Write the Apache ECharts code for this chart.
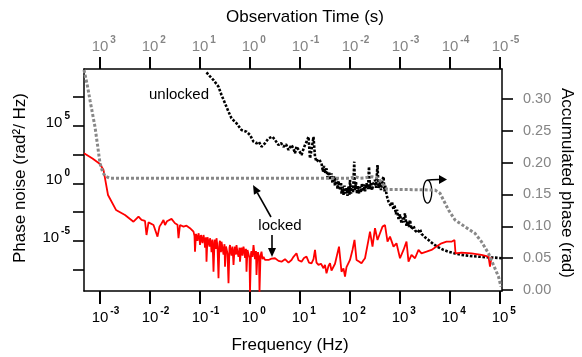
<!DOCTYPE html>
<html><head><meta charset="utf-8">
<script src="https://cdn.jsdelivr.net/npm/echarts@6/dist/echarts.min.js"></script>
<style>html,body{margin:0;padding:0;background:#fff}#c{width:582px;height:357px}</style>
</head><body><div id="c"></div><script>
// Frequency ticks (log10 Hz); observation time = 1/f on top axis
const freqTicks = [-3, -2, -1, 0, 1, 2, 3, 4, 5];
// Phase-noise ticks (log10 rad^2/Hz)
const noiseTicks = [-7.5, -5, -2.5, 0, 2.5, 5, 7.5];
const noiseLabelTicks = [-5, 0, 5];
// Accumulated phase ticks (rad)
const accTicks = [0, 0.05, 0.10, 0.15, 0.20, 0.25, 0.30];

// [log10 f, log10 S]  unlocked (black dots)
const unlocked = [
 [-0.87,9.65],[-0.80,9.3],[-0.73,8.98],[-0.63,8.40],[-0.57,7.68],[-0.50,6.96],[-0.43,6.23],[-0.37,5.65],
 [-0.27,5.22],[-0.17,4.63],[-0.07,4.49],[0.0,4.2],[0.07,3.62],[0.13,3.48],[0.18,3.6],[0.23,3.18],
 [0.30,3.48],[0.37,3.91],[0.45,4.05],[0.50,3.77],[0.57,3.33],[0.62,3.5],[0.67,3.18],[0.72,3.4],
 [0.77,2.90],[0.83,3.33],[0.87,3.0],[0.90,2.61],[0.93,3.2],[0.97,3.04],[1.0,2.7],[1.03,2.46],
 [1.07,3.0],[1.10,3.33],[1.13,3.6],[1.17,4.05],[1.20,2.17],[1.23,2.9],[1.27,4.03],[1.30,2.3],
 [1.33,1.88],[1.38,2.1],[1.43,1.74],[1.46,1.0],[1.48,1.5],[1.50,0.9],[1.53,1.30],[1.55,0.5],
 [1.58,1.0],[1.60,0.3],[1.63,0.87],[1.65,0.0],[1.68,0.6],[1.70,-0.2],[1.73,0.57],[1.75,-0.5],
 [1.77,0.2],[1.80,-0.6],[1.82,0.1],[1.83,-0.9],[1.85,-0.3],[1.87,-1.0],[1.89,-0.2],[1.91,-0.9],
 [1.93,-0.43],[1.95,-1.1],[1.97,-0.3],[1.99,-1.0],[2.0,0.29],[2.02,-0.9],[2.04,-0.2],[2.06,-0.8],
 [2.085,1.88],[2.10,-0.6],[2.12,0.1],[2.14,-0.9],[2.16,-0.2],[2.18,-0.9],[2.20,-0.3],[2.22,-0.8],
 [2.24,0.0],[2.26,-0.7],[2.28,-0.1],[2.30,-0.7],[2.33,0],[2.36,-0.5],[2.38,1.44],[2.40,-0.5],
 [2.42,0.1],[2.44,-0.6],[2.47,0.0],[2.50,0.29],[2.52,-0.4],[2.55,1.59],[2.57,-0.4],[2.60,0.1],
 [2.62,-0.6],[2.65,0.3],[2.67,0.57],[2.69,-0.7],[2.71,-0.2],[2.73,-1.0],[2.75,-0.9],[2.77,-1.6],
 [2.80,-1.45],[2.82,-2.0],[2.84,-1.6],[2.87,-2.3],[2.89,-1.9],[2.92,-2.7],[2.94,-2.3],[2.97,-3.1],
 [3.0,-2.7],[3.03,-3.5],[3.05,-3.0],[3.07,-3.4],[3.10,-2.61],[3.13,-3.7],[3.15,-3.3],[3.18,-3.8],
 [3.20,-3.2],[3.23,-4.0],[3.27,-3.7],[3.30,-4.1],[3.35,-4.3],[3.40,-4.0],[3.43,-4.4],[3.50,-4.7],
 [3.57,-4.93],[3.67,-5.3],[3.77,-5.57],[3.87,-5.8],[3.97,-5.95],[4.1,-6.1],[4.23,-6.23],[4.4,-6.32],
 [4.57,-6.38],[4.73,-6.43],[4.9,-6.47],[5.04,-6.52]
];

// [log10 f, log10 S]  locked (red)
const locked = [
 [-3.32,2.61],[-3.15,2.15],[-3.0,1.68],[-2.93,1.16],[-2.84,-1.02],[-2.68,-2.32],[-2.5,-2.76],[-2.33,-3.34],
 [-2.23,-2.90],[-2.17,-3.19],[-2.10,-3.28],[-2.07,-4.5],[-2.03,-3.4],[-2.0,-3.48],[-1.93,-3.63],[-1.85,-4.64],
 [-1.81,-3.77],[-1.77,-3.5],[-1.73,-3.19],[-1.70,-3.63],[-1.66,-3.3],[-1.63,-3.19],[-1.57,-3.10],[-1.50,-3.48],
 [-1.45,-3.6],[-1.43,-4.78],[-1.40,-3.63],[-1.33,-3.77],[-1.27,-3.69],[-1.20,-3.91],[-1.16,-4.0],[-1.13,-4.21],
 [-1.11,-4.6],[-1.10,-5.95],[-1.08,-4.4],[-1.07,-4.3],[-1.05,-5.0],[-1.03,-4.35],[-1.01,-4.8],[-1.0,-5.37],
 [-0.98,-4.5],[-0.97,-4.4],[-0.95,-5.2],[-0.93,-4.5],[-0.91,-5.0],[-0.90,-5.6],[-0.88,-4.7],[-0.87,-6.82],
 [-0.85,-4.7],[-0.83,-4.6],[-0.81,-5.5],[-0.80,-4.78],[-0.78,-5.2],[-0.77,-6.0],[-0.75,-4.9],[-0.73,-7.69],
 [-0.71,-5.1],[-0.70,-4.9],[-0.68,-5.7],[-0.67,-4.78],[-0.65,-5.5],[-0.63,-8.26],[-0.61,-5.2],[-0.60,-5.0],
 [-0.58,-6.0],[-0.57,-5.08],[-0.55,-5.6],[-0.53,-6.2],[-0.51,-5.3],[-0.50,-7.25],[-0.48,-5.5],[-0.47,-5.4],
 [-0.45,-6.1],[-0.43,-8.7],[-0.41,-5.6],[-0.40,-5.37],[-0.38,-6.0],[-0.37,-6.3],[-0.35,-5.5],[-0.33,-7.1],
 [-0.31,-5.8],[-0.30,-5.5],[-0.28,-6.2],[-0.27,-5.37],[-0.25,-6.0],[-0.23,-6.4],[-0.21,-5.6],[-0.20,-6.82],
 [-0.18,-5.8],[-0.17,-5.6],[-0.15,-6.3],[-0.13,-5.51],[-0.11,-6.0],[-0.10,-6.5],[-0.08,-5.7],[-0.07,-7.69],
 [-0.05,-5.8],[-0.03,-5.7],[-0.01,-6.5],[0.0,-9.43],[0.02,-6.1],[0.03,-5.9],[0.05,-6.4],[0.07,-5.37],
 [0.09,-6.2],[0.10,-6.6],[0.12,-5.9],[0.13,-7.97],[0.15,-6.2],[0.16,-6.0],[0.18,-6.5],[0.19,-9.43],
 [0.21,-6.3],[0.23,-5.95],[0.25,-6.6],[0.27,-6.4],[0.30,-6.67],[0.33,-6.5],[0.37,-6.67],[0.43,-6.55],
 [0.50,-6.52],[0.57,-6.75],[0.63,-6.82],[0.70,-6.6],[0.77,-6.9],[0.83,-6.67],[0.87,-6.4],[0.93,-6.09],
 [0.97,-6.7],[1.03,-6.82],[1.08,-6.5],[1.13,-6.38],[1.18,-6.9],[1.23,-6.96],[1.27,-6.6],[1.30,-5.8],
 [1.33,-6.9],[1.37,-7.1],[1.42,-7.0],[1.47,-7.39],[1.50,-7.1],[1.53,-7.83],[1.57,-7.2],[1.60,-6.96],
 [1.63,-7.6],[1.67,-7.54],[1.70,-7.0],[1.73,-7.1],[1.78,-5.51],[1.83,-7.69],[1.87,-7.4],[1.90,-8.12],
 [1.93,-7.3],[1.97,-7.25],[2.0,-6.67],[2.05,-5.8],[2.09,-4.93],[2.13,-6.67],[2.18,-6.8],[2.23,-6.96],
 [2.27,-6.7],[2.30,-6.52],[2.37,-4.93],[2.40,-4.21],[2.45,-5.51],[2.50,-3.91],[2.55,-4.93],[2.60,-4.35],
 [2.65,-3.77],[2.70,-3.63],[2.75,-5.08],[2.80,-4.64],[2.87,-5.51],[2.93,-5.22],[2.97,-5.08],[3.0,-6.52],
 [3.07,-5.8],[3.13,-5.08],[3.17,-6.82],[3.23,-6.23],[3.30,-6.52],[3.37,-5.8],[3.43,-6.09],[3.53,-5.95],
 [3.63,-5.8],[3.73,-5.51],[3.83,-5.22],[3.93,-5.08],[4.03,-5.08],[4.09,-4.93],[4.11,-6.09],[4.23,-6.03],
 [4.43,-6.09],[4.63,-6.23],[4.77,-6.38],[4.80,-7.25],[4.83,-6.43]
];

// [log10 f, accumulated phase rad]  (gray dots, right axis)
const accumulated = [
 [-3.32,0.3456],[-3.30,0.343],[-3.25,0.32],[-3.20,0.298],[-3.15,0.277],[-3.10,0.256],[-3.05,0.228],[-3.0,0.199],
 [-2.95,0.186],[-2.90,0.179],[-2.80,0.1755],[2.0,0.1755],[2.1,0.178],[2.2,0.1755],[2.3,0.176],[2.44,0.178],
 [2.56,0.176],[2.64,0.168],[2.74,0.158],[3.0,0.158],[3.7,0.157],[3.8,0.152],[3.97,0.1257],[4.1,0.110],
 [4.3,0.0994],[4.5,0.089],[4.63,0.0759],[4.77,0.0576],[4.87,0.0393],[4.97,0.0209],[5.02,0.0052]
];

const FONT = "'Liberation Sans', Arial, Helvetica, sans-serif";
const GRAY = '#858585';

function powRich(color, withHidden) {
  const r = {
    b: {fontSize: 15, fontFamily: FONT, color: color},
    s: {fontSize: 10, fontWeight: 'bold', fontFamily: FONT, color: color, padding: [0, 0, 14, 2]}
  };
  if (withHidden) r.h = {fontSize: 10, fontWeight: 'bold', fontFamily: FONT, color: 'rgba(0,0,0,0)', padding: [0, 2, 0, 0]};
  return r;
}
function expStr(e) { e = Math.round(e); return e === 0 ? '0' : String(e); }

const chart = echarts.init(document.getElementById('c'), null, {renderer: 'canvas'});

function arrowHead(tip, from, len, half) {
  const dx = tip[0] - from[0], dy = tip[1] - from[1];
  const L = Math.sqrt(dx*dx + dy*dy), ux = dx/L, uy = dy/L;
  const bx = tip[0] - ux*len, by = tip[1] - uy*len;
  return {pts: [tip, [bx - uy*half, by + ux*half], [bx + uy*half, by - ux*half]], base: [bx, by]};
}
function arrow(from, tip) {
  const h = arrowHead(tip, from, 9, 4);
  return [
    {type: 'line', silent: true, shape: {x1: from[0], y1: from[1], x2: h.base[0], y2: h.base[1]}, style: {stroke: '#000', lineWidth: 1.6}},
    {type: 'polygon', silent: true, shape: {points: h.pts}, style: {fill: '#000'}}
  ];
}

const a3 = arrowHead([447, 179.5], [438, 179.5], 8, 4.5);

const option = {
  animation: false,
  backgroundColor: '#fff',
  grid: {left: 84, right: 80, top: 69, bottom: 66, show: false},
  xAxis: [
    {
      type: 'value', position: 'bottom', min: -3.32, max: 5.04,
      axisLine: {show: true, onZero: false, lineStyle: {color: '#000', width: 1.5}},
      axisTick: {show: true, customValues: freqTicks, length: 13, lineStyle: {color: '#000', width: 2}},
      axisLabel: {customValues: freqTicks, margin: 15, formatter: v => '{h|' + expStr(v) + '}{b|10}{s|' + expStr(v) + '}', rich: powRich('#000', true)},
      splitLine: {show: false}
    },
    {
      type: 'value', position: 'top', min: -3.32, max: 5.04,
      axisLine: {show: true, onZero: false, lineStyle: {color: '#000', width: 1.5}},
      axisTick: {show: true, customValues: freqTicks, length: 12, lineStyle: {color: '#000', width: 2}},
      axisLabel: {customValues: freqTicks, margin: 10, formatter: v => '{h|' + expStr(-v) + '}{b|10}{s|' + expStr(-v) + '}', rich: powRich(GRAY, true)},
      splitLine: {show: false}
    }
  ],
  yAxis: [
    {
      type: 'value', position: 'left', min: -9.37, max: 9.94,
      axisLine: {show: true, onZero: false, lineStyle: {color: '#000', width: 1.5}},
      axisTick: {show: true, customValues: noiseTicks, length: 11, lineStyle: {color: '#000', width: 1.6}},
      axisLabel: {customValues: noiseLabelTicks, margin: 14, padding: [0, 0, 6, 0], formatter: v => '{b|10}{s|' + expStr(v) + '}', rich: powRich('#000', false)},
      splitLine: {show: false}
    },
    {
      type: 'value', position: 'right', min: -0.0015, max: 0.347,
      axisLine: {show: true, onZero: false, lineStyle: {color: '#000', width: 1.5}},
      axisTick: {show: true, customValues: accTicks, length: 11, lineStyle: {color: '#000', width: 1.6}},
      axisLabel: {customValues: accTicks, margin: 21, color: GRAY, fontSize: 14.5, fontFamily: FONT, formatter: v => v.toFixed(2)},
      splitLine: {show: false}
    }
  ],
  series: [
    {
      name: 'unlocked', type: 'line', xAxisIndex: 0, yAxisIndex: 0, data: unlocked,
      showSymbol: false, silent: true, clip: true,
      lineStyle: {color: '#000', width: 2.6, type: [2.6, 1.6], cap: 'butt', join: 'bevel'}
    },
    {
      name: 'locked', type: 'line', xAxisIndex: 0, yAxisIndex: 0, data: locked,
      showSymbol: false, silent: true, clip: true,
      lineStyle: {color: '#ff0000', width: 1.8, join: 'bevel'}
    },
    {
      name: 'accumulated', type: 'line', xAxisIndex: 0, yAxisIndex: 1, data: accumulated,
      showSymbol: false, silent: true, clip: true,
      lineStyle: {color: '#888', width: 3, type: [3, 2], cap: 'butt', join: 'bevel'}
    }
  ],
  graphic: [
    {type: 'text', silent: true, x: 305, y: 17, style: {text: 'Observation Time (s)', font: '17px ' + FONT, fill: '#000', align: 'center', verticalAlign: 'middle'}},
    {type: 'text', silent: true, x: 290, y: 345, style: {text: 'Frequency (Hz)', font: '17px ' + FONT, fill: '#000', align: 'center', verticalAlign: 'middle'}},
    {type: 'text', silent: true, x: 20, y: 178, rotation: Math.PI/2, style: {text: 'Phase noise (rad\u00B2/ Hz)', font: '17px ' + FONT, fill: '#000', align: 'center', verticalAlign: 'middle'}},
    {type: 'text', silent: true, x: 567, y: 183, rotation: -Math.PI/2, style: {text: 'Accumulated phase (rad)', font: '17px ' + FONT, fill: '#000', align: 'center', verticalAlign: 'middle'}},
    {type: 'text', silent: true, x: 179, y: 95, style: {text: 'unlocked', font: '15px ' + FONT, fill: '#000', align: 'center', verticalAlign: 'middle'}},
    {type: 'text', silent: true, x: 280, y: 226, style: {text: 'locked', font: '15px ' + FONT, fill: '#000', align: 'center', verticalAlign: 'middle'}},
    ...arrow([271, 217], [253, 185]),
    ...arrow([272, 235], [272, 257]),
    {type: 'ellipse', silent: true, shape: {cx: 427.5, cy: 191.7, rx: 4.3, ry: 11.5}, style: {fill: 'none', stroke: '#000', lineWidth: 1.3}},
    {type: 'bezierCurve', silent: true, shape: {x1: 427.5, y1: 180.5, cpx1: 430, cpy1: 179.5, x2: a3.base[0], y2: 179.5}, style: {fill: 'none', stroke: '#000', lineWidth: 1.6}},
    {type: 'polygon', silent: true, shape: {points: a3.pts}, style: {fill: '#000'}}
  ]
};
chart.setOption(option);
</script></body></html>
